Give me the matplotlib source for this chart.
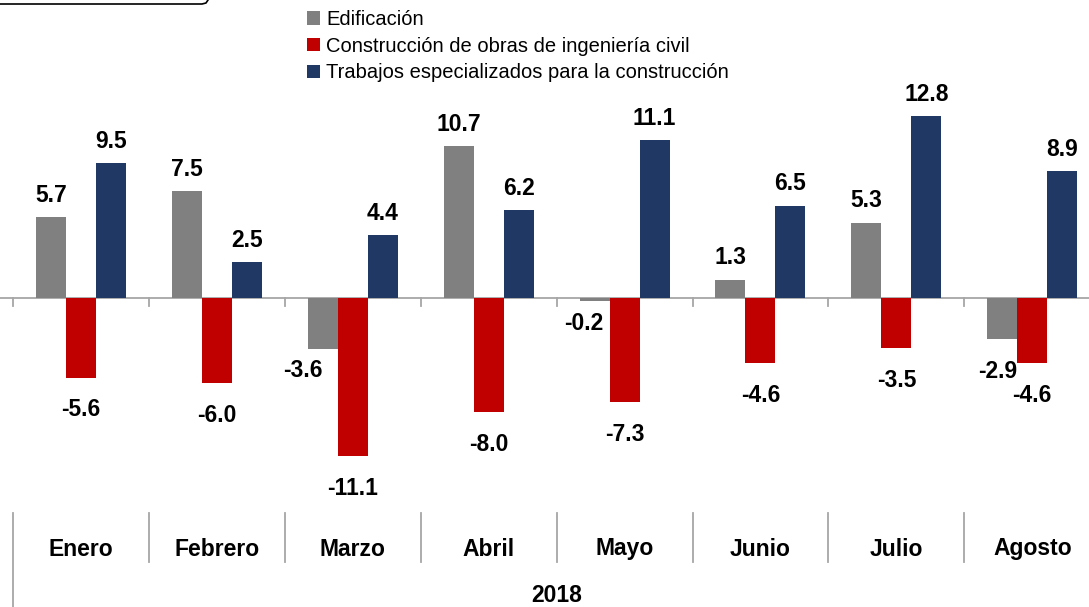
import matplotlib
matplotlib.use('Agg')

import matplotlib.pyplot as plt
import numpy as np
from matplotlib.lines import Line2D

plt.rcParams['font.family'] = ['Liberation Sans', 'DejaVu Sans']

# datos (variacion % anual, 2018)
meses = ['Enero', 'Febrero', 'Marzo', 'Abril', 'Mayo', 'Junio', 'Julio', 'Agosto']
anio = '2018'
series = ['Edificación', 'Construcción de obras de ingeniería civil',
          'Trabajos especializados para la construcción']
edificacion = [5.7, 7.5, -3.6, 10.7, -0.2, 1.3, 5.3, -2.9]
obras_civil = [-5.6, -6.0, -11.1, -8.0, -7.3, -4.6, -3.5, -4.6]
especializados = [9.5, 2.5, 4.4, 6.2, 11.1, 6.5, 12.8, 8.9]
colores = ['#808080', '#C00000', '#1F3864']

# ajustes manuales de etiquetas (serie, mes) -> (dx, dy) en puntos
ajustes = {(0, 2): (-14, 8), (0, 4): (-8, 7), (0, 7): (-3, 0)}

W, H = 1089, 607
x0_px, cat_px = 13, 135.9
zero_px, unit_px = 298, 14.22


def py(v_px):
    # pixel vertical -> unidades del eje
    return (zero_px - v_px) / unit_px


fig = plt.figure(figsize=(W / 100, H / 100), dpi=100)
ax = fig.add_axes([0, 0, 1, 1])
ax.set_xlim(-x0_px / cat_px, (W - x0_px) / cat_px)
ax.set_ylim(py(H), py(0))
ax.axis('off')

x = np.arange(len(meses)) + 0.5
w = 30 / cat_px
valores = [edificacion, obras_civil, especializados]

barras = []
for k, vals in enumerate(valores):
    b = ax.bar(x + (k - 1) * w, vals, w, color=colores[k], label=series[k], zorder=2)
    barras.append(b)
    for i, v in enumerate(vals):
        dx, dy = ajustes.get((k, i), (0, 0))
        if v >= 0:
            ax.annotate('{:.1f}'.format(v), (x[i] + (k - 1) * w, v), xytext=(dx, 11 + dy),
                        textcoords='offset points', ha='center', va='baseline',
                        fontsize=16.5, fontweight='bold')
        else:
            ax.annotate('{:.1f}'.format(v), (x[i] + (k - 1) * w, v), xytext=(dx, -15 + dy),
                        textcoords='offset points', ha='center', va='top',
                        fontsize=16.5, fontweight='bold')

# linea del cero y marcas
ax.axhline(0, color='#A6A6A6', lw=1.3, zorder=1)
for i in range(len(meses)):
    ax.plot([i, i], [0, py(306)], color='#A6A6A6', lw=1.3, zorder=1)

# eje de categorias
for i in range(len(meses)):
    ax.plot([i, i], [py(513), py(607 if i == 0 else 562)], color='#A6A6A6', lw=1.3)
    ax.text(x[i], py(549), meses[i], ha='center', va='center', fontsize=16.5, fontweight='bold')
ax.text(len(meses) / 2, py(596), anio, ha='center', va='center', fontsize=16.5, fontweight='bold')

# leyenda
ax.legend(handles=barras, loc='upper left', bbox_to_anchor=(307 / W, 1 - 10 / H),
          bbox_transform=fig.transFigure, frameon=False, fontsize=14.5,
          handlelength=0.65, handleheight=0.65, handletextpad=0.3,
          labelspacing=0.38, borderpad=0, borderaxespad=0)

# recuadro recortado arriba a la izquierda
fig.add_artist(Line2D(np.array([0, 202, 206, 208]) / W,
                      1 - np.array([4, 4, 3, 0]) / H,
                      transform=fig.transFigure, color='black', lw=1.2))

fig.savefig('out.png', dpi=100)
